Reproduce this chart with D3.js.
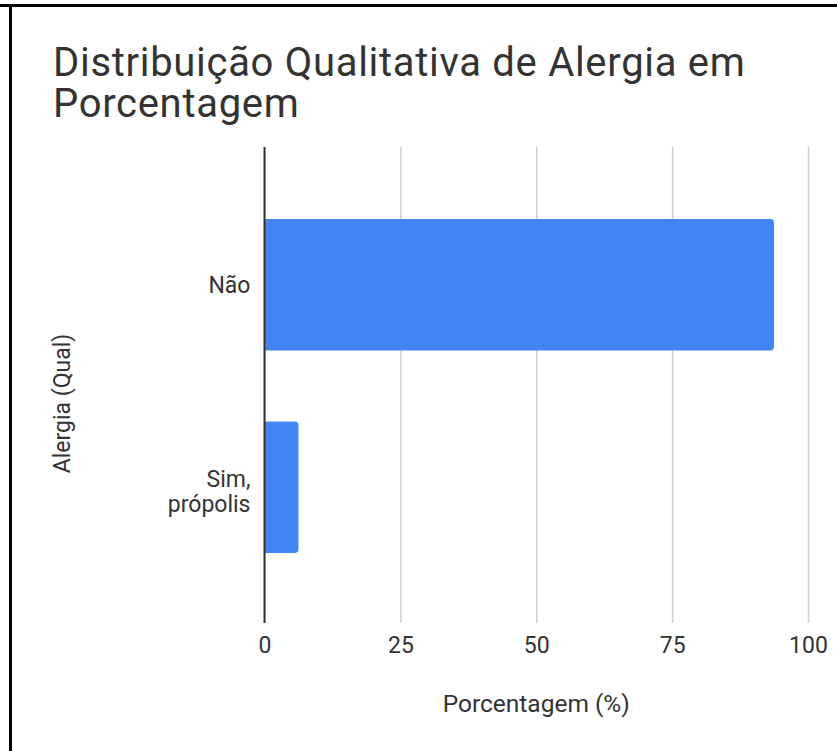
<!DOCTYPE html>
<html>
<head>
<meta charset="utf-8">
<script src="https://cdn.jsdelivr.net/npm/d3@7/dist/d3.min.js"></script>
<style>
  html, body { margin: 0; padding: 0; background: #fff; }
  svg { display: block; }
  text { font-family: Roboto, "Noto Sans", sans-serif; fill: #333; }
</style>
</head>
<body>
<script>
// Allergy answers (share of respondents, %)
const categories = ["Não", "Sim, própolis"];
const categoryLines = [["Não"], ["Sim,", "própolis"]];
const percentages = [93.75, 6.25];
const xTicks = [0, 25, 50, 75, 100];

const titleLines = ["Distribuição Qualitativa de Alergia em", "Porcentagem"];
const xTitle = "Porcentagem (%)";
const yTitle = "Alergia (Qual)";

const W = 837, H = 751;
const plot = { left: 264.5, right: 808, top: 147, bottom: 623 };

const svg = d3.select("body").append("svg")
  .attr("width", W).attr("height", H);

svg.append("rect").attr("width", W).attr("height", H).attr("fill", "#fff");

// frame edges
svg.append("line").attr("x1", 0).attr("x2", W).attr("y1", 5.5).attr("y2", 5.5)
  .attr("stroke", "#000").attr("stroke-width", 3);
svg.append("line").attr("x1", 10.5).attr("x2", 10.5).attr("y1", 4).attr("y2", H)
  .attr("stroke", "#000").attr("stroke-width", 3);

// title, wrapped onto two lines
svg.append("text")
  .style("font-size", "40px")
  .style("letter-spacing", "0.7px")
  .style("fill", "#333")
  .selectAll("tspan").data(titleLines).join("tspan")
  .attr("x", 53)
  .attr("y", (d, i) => 76 + i * 41)
  .text(d => d);

const x = d3.scaleLinear().domain([0, 100]).range([plot.left, plot.right]);
const y = d3.scaleBand().domain(categories)
  .range([plot.top + 1, plot.bottom + 1])
  .paddingInner(0.35).paddingOuter(0.35);

// vertical gridlines + tick labels via axis
const xAxis = d3.axisBottom(x).tickValues(xTicks).tickSize(plot.bottom - plot.top).tickFormat(d3.format("d"));
const gx = svg.append("g").attr("transform", `translate(0,${plot.top})`).call(xAxis);
gx.select(".domain").remove();
gx.selectAll(".tick line").attr("stroke", "#cfcfcf").attr("stroke-width", 1.5);
gx.selectAll(".tick text")
  .attr("y", 653 - plot.top)
  .attr("dy", 0)
  .style("font-size", "23px").style("fill", "#333");

// bars with rounded right ends
const r = 4;
function barPath(x0, y0, x1, h) {
  return `M${x0},${y0}H${x1 - r}Q${x1},${y0} ${x1},${y0 + r}V${y0 + h - r}Q${x1},${y0 + h} ${x1 - r},${y0 + h}H${x0}Z`;
}
svg.append("g").selectAll("path").data(percentages).join("path")
  .attr("d", (d, i) => barPath(x(0), y(categories[i]), x(d), y.bandwidth()))
  .attr("fill", "#4285f4");

// zero baseline
svg.append("line")
  .attr("x1", x(0)).attr("x2", x(0))
  .attr("y1", plot.top).attr("y2", plot.bottom)
  .attr("stroke", "#333").attr("stroke-width", 2);

// category labels
const lineGap = 25;
categoryLines.forEach((lines, i) => {
  const cy = y(categories[i]) + y.bandwidth() / 2;
  const shift = lines.length > 1 ? 12 : 8;
  const t = svg.append("text")
    .attr("text-anchor", "end")
    .style("font-size", "23px").style("fill", "#333");
  lines.forEach((ln, j) => {
    t.append("tspan")
      .attr("x", x(0) - 14)
      .attr("y", cy + shift + (j - (lines.length - 1) / 2) * lineGap)
      .text(ln);
  });
});

// axis titles
svg.append("text")
  .attr("x", (plot.left + plot.right) / 2).attr("y", 712)
  .attr("text-anchor", "middle")
  .style("font-size", "24.5px")
  .text(xTitle);

svg.append("text")
  .attr("transform", `translate(69.5,${403.5})rotate(-90)`)
  .attr("text-anchor", "middle")
  .style("font-size", "23px")
  .text(yTitle);
</script>
</body>
</html>
